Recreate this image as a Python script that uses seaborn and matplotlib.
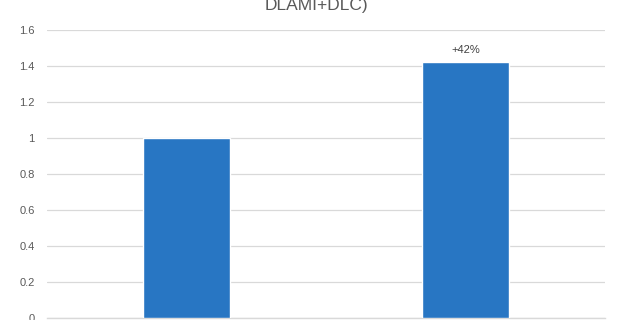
import matplotlib
matplotlib.use("Agg")
import matplotlib.pyplot as plt
import seaborn as sns
import pandas as pd

categories = ["Baseline", "DLAMI+DLC"]
values = [1.0, 1.42]
bar_labels = ["", "+42%"]
yticks = [0, 0.2, 0.4, 0.6, 0.8, 1, 1.2, 1.4, 1.6]
ytick_labels = ["0", "0.2", "0.4", "0.6", "0.8", "1", "1.2", "1.4", "1.6"]
title = "Relative performance (baseline vs.\nDLAMI+DLC)"

sns.set_style("white")
plt.rcParams["font.family"] = ["Liberation Sans", "DejaVu Sans"]

df = pd.DataFrame({"cat": categories, "val": values})

W, H = 625, 320
fig = plt.figure(figsize=(W / 100, H / 100), dpi=100)
ax = fig.add_axes([47 / W, 2 / H, (605 - 47) / W, (318 - 30) / H])

sns.barplot(data=df, x="cat", y="val", color="#2876C3", width=0.315,
            saturation=1, ax=ax, zorder=3)

ax.set_ylim(0, 1.6)
ax.set_xlim(-0.5, 1.5)
ax.set_yticks(yticks)
ax.set_yticklabels(ytick_labels)
ax.tick_params(axis="y", length=0, pad=9, labelsize=8, labelcolor="#595959")
ax.tick_params(axis="x", length=0)
ax.set_xlabel("")
ax.set_ylabel("")
ax.set_xticklabels([])
ax.yaxis.grid(True, color="#D9D9D9", linewidth=0.9, zorder=0)
for s in ["top", "right", "left"]:
    ax.spines[s].set_visible(False)
ax.spines["bottom"].set_color("#D9D9D9")
ax.spines["bottom"].set_linewidth(1.0)

for i, (v, lab) in enumerate(zip(values, bar_labels)):
    if lab:
        ax.annotate(lab, (i, v), xytext=(0, 5.5), textcoords="offset points",
                    ha="center", va="bottom", fontsize=8, color="#404040")

fig.text(316 / W, (H - 10) / H, title, ha="center", va="baseline",
         fontsize=12.5, color="#595959")

fig.savefig("out.png", dpi=100)
